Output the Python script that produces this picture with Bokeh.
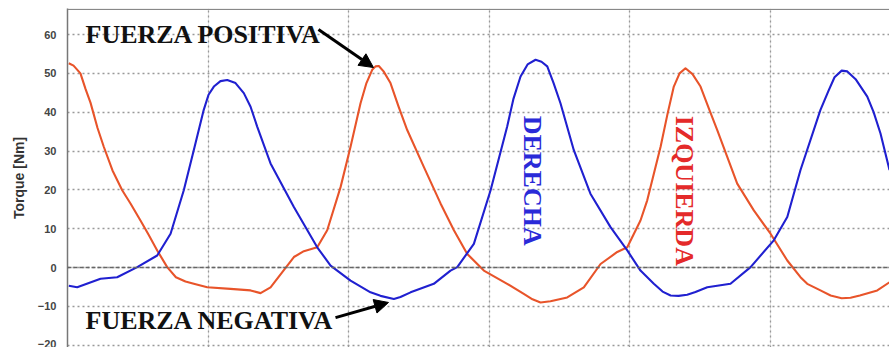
import math
from bokeh.plotting import figure
from bokeh.models import (FixedTicker, Grid, Span, Arrow, NormalHead, Label, Range1d)
from bokeh.embed import file_html
from bokeh.resources import INLINE

# ---- data (time in grid units x100, torque in Nm) ----
izquierda_t = [0.9, 4.3, 9.2, 12.8, 16.4, 21.3, 25.8, 32.0, 38.9, 44.8, 51.9, 57.6, 63.8, 70.9, 77.1,
               83.9, 89.8, 99.4, 115.9, 130.2, 137.3, 144.4, 161.0, 168.1, 177.6, 184.7, 194.2, 201.3,
               208.4, 212.6, 216.7, 219.1, 221.4, 224.8, 229.7, 235.4, 241.6, 253.4, 265.3, 274.8, 284.3,
               296.1, 312.7, 324.5, 330.7, 336.4, 343.5, 355.4, 367.2, 379.1, 391.0, 398.1, 407.5, 412.3,
               421.8, 426.7, 431.2, 435.3, 439.5, 444.5, 450.2, 456.1, 462.1, 476.3, 488.1, 500.0, 511.9,
               521.3, 526.1, 535.5, 542.7, 550.6, 556.9, 563.5, 575.9, 584.6]
izquierda_v = [52.6, 52.0, 50.0, 46.0, 42.4, 36.0, 31.1, 25.0, 19.9, 16.5, 12.1, 8.5, 4.4, 0.1, -2.5,
               -3.6, -4.2, -5.1, -5.5, -5.9, -6.6, -5.1, 2.7, 4.2, 5.2, 9.6, 20.7, 31.1,
               42.3, 47.5, 50.9, 51.8, 51.9, 50.5, 47.5, 41.5, 35.4, 25.9, 16.5, 9.6, 3.5,
               -0.8, -4.2, -6.8, -8.2, -9.0, -8.7, -7.7, -5.1, 0.9, 4.0, 5.2, 12.1, 17.3,
               31.1, 39.5, 46.6, 50.0, 51.3, 49.8, 46.6, 41.0, 35.4, 21.6, 14.7, 8.7, 1.8,
               -2.5, -4.2, -5.9, -7.2, -7.9, -7.8, -7.2, -5.9, -3.8]

derecha_t = [0.9, 6.9, 23.5, 35.3, 49.6, 63.8, 73.3, 82.7, 89.8, 96.9, 100.3, 104.1, 108.8, 113.6, 119.5,
             125.4, 130.2, 134.9, 144.4, 161.0, 177.6, 187.1, 201.3, 215.5, 222.6, 232.1, 236.8, 244.0,
             260.5, 272.4, 277.2, 289.0, 300.9, 312.7, 317.2, 322.2, 327.2, 332.9, 337.1, 341.2, 345.7,
             350.6, 360.1, 371.9, 386.2, 398.1, 407.5, 417.0, 423.2, 428.9, 434.6, 440.7, 446.6, 455.0,
             471.5, 485.8, 502.3, 511.9, 521.3, 535.5, 541.2, 545.5, 550.6, 554.6, 560.5, 568.8, 573.3,
             578.2, 584.6]
derecha_v = [-4.7, -5.1, -2.9, -2.5, 0.1, 3.1, 8.7, 19.9, 30.2, 40.6, 44.5, 46.6, 48.0, 48.3, 47.5,
             44.9, 41.4, 36.3, 26.8, 15.6, 5.2, 0.5, -3.4, -6.4, -7.3, -8.1, -7.6, -6.4,
             -4.2, -0.8, 0.1, 6.1, 19.9, 36.3, 43.5, 49.2, 52.3, 53.5, 53.0, 51.8, 47.5,
             42.3, 30.2, 19.0, 10.4, 4.4, -0.8, -4.2, -6.2, -7.2, -7.3, -7.0, -6.3, -5.1,
             -4.2, 0.1, 7.0, 13.0, 25.1, 40.6, 45.5, 49.0, 50.7, 50.5, 48.5, 44.0, 40.0,
             34.5, 25.1]

y_ticks = [-20, -10, 0, 10, 20, 30, 40, 50, 60]
x_grid = [100, 200, 300, 400, 500]

# annotation anchors (data coords)
pos_label = (12.8, 60.0)
neg_label = (12.8, -13.6)
pos_arrow = (178.5, 61.3, 217.6, 51.5)
neg_arrow = (190.6, -12.9, 228.3, -9.0)
der_label = (330.7, 39.1)
izq_label = (438.8, 39.1)

ORANGE = "#e8542a"
BLUE = "#2020d0"
SERIF = "Liberation Serif"
SANS = "Liberation Sans"

p = figure(width=889, height=347, output_backend="svg", toolbar_location=None,
           x_range=Range1d(0, 584.6), y_range=Range1d(-20.6, 66.7),
           x_axis_location=None, min_border_left=67, min_border_right=0,
           min_border_top=8, min_border_bottom=0)
p.outline_line_color = None
p.background_fill_color = "white"
p.border_fill_color = "white"

# y axis
ax = p.yaxis[0]
ax.ticker = FixedTicker(ticks=y_ticks)
ax.major_tick_line_color = None
ax.minor_tick_line_color = None
ax.axis_line_color = "#777777"
ax.axis_line_width = 1.5
ax.major_label_text_font = SANS
ax.major_label_text_font_style = "bold"
ax.major_label_text_font_size = "11px"
ax.major_label_text_color = "#444444"
ax.major_label_standoff = 5
ax.axis_label = "Torque [Nm]"
ax.axis_label_text_font = SANS
ax.axis_label_text_font_style = "bold"
ax.axis_label_text_font_size = "14px"
ax.axis_label_text_color = "#333333"
ax.axis_label_standoff = 8

# grids
p.ygrid.ticker = FixedTicker(ticks=y_ticks)
p.ygrid.grid_line_color = "#999999"
p.ygrid.grid_line_dash = "2 3"
p.ygrid.grid_line_width = 1.3
xg = Grid(dimension=0, ticker=FixedTicker(ticks=x_grid), grid_line_color="#999999",
          grid_line_dash="2 3", grid_line_width=1.3)
p.add_layout(xg)

p.add_layout(Span(location=0, dimension="width", line_color="#666666", line_dash="4 2", line_width=1.5))
p.add_layout(Span(location=66.5, dimension="width", line_color="#888888", line_width=1.2))

# curves
p.line(izquierda_t, izquierda_v, line_color=ORANGE, line_width=2.1, line_join="round")
p.line(derecha_t, derecha_v, line_color=BLUE, line_width=2.1, line_join="round")

# text labels
p.add_layout(Label(x=pos_label[0], y=pos_label[1], text="FUERZA POSITIVA", text_font=SERIF,
                   text_font_style="bold", text_font_size="26px", text_color="#111111",
                   text_baseline="middle", text_align="left"))
p.add_layout(Label(x=neg_label[0], y=neg_label[1], text="FUERZA NEGATIVA", text_font=SERIF,
                   text_font_style="bold", text_font_size="26px", text_color="#111111",
                   text_baseline="middle", text_align="left"))
p.add_layout(Label(x=der_label[0], y=der_label[1], text="DERECHA", text_font=SERIF,
                   text_font_style="bold", text_font_size="26px", text_color="#2a2ad8",
                   text_baseline="middle", text_align="left", angle=-math.pi / 2))
p.add_layout(Label(x=izq_label[0], y=izq_label[1], text="IZQUIERDA", text_font=SERIF,
                   text_font_style="bold", text_font_size="26px", text_color="#e42a2a",
                   text_baseline="middle", text_align="left", angle=-math.pi / 2))

# arrows
for a in (pos_arrow, neg_arrow):
    p.add_layout(Arrow(x_start=a[0], y_start=a[1], x_end=a[2], y_end=a[3], line_color="black",
                       line_width=3, end=NormalHead(size=14, fill_color="black", line_color="black")))

open("out.html", "w").write(file_html(p, INLINE))
